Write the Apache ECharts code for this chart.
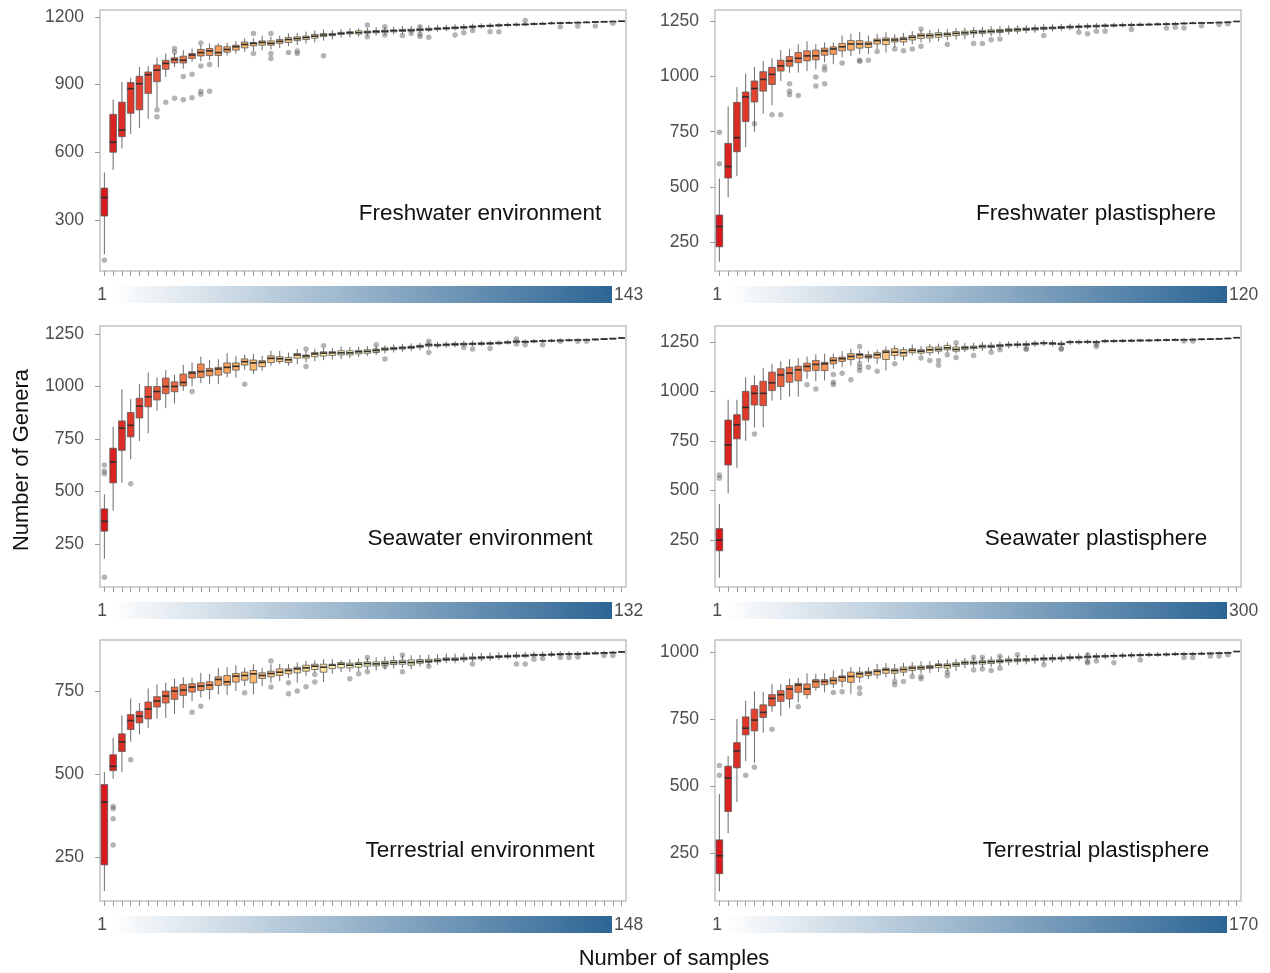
<!DOCTYPE html>
<html>
<head>
<meta charset="utf-8">
<script src="https://cdn.jsdelivr.net/npm/echarts@6/dist/echarts.min.js"></script>
<style>
  html, body { margin: 0; padding: 0; background: #ffffff; }
  #chart { width: 1270px; height: 973px; }
</style>
</head>
<body>
<div id="chart"></div>
<script>
// ---------- Data: rarefaction boxes [lower whisker, Q1, median, Q3, upper whisker] ----------
const fwEnvBoxes = [
  [147,317,399,441,510],[521,600,644,768,834],[617,669,699,822,912],[681,773,882,909,931],
  [708,788,904,937,978],[748,861,944,956,982],[800,913,964,987,1020],[934,968,994,1008,1038],
  [978,996,1011,1019,1040],[971,996,1008,1026,1053],[1001,1016,1031,1038,1060],[1003,1027,1042,1056,1075],
  [1008,1029,1050,1060,1083],[978,1029,1042,1072,1083],[1029,1044,1056,1068,1085],[1038,1053,1068,1075,1094],
  [1045,1063,1078,1089,1105],[1050,1072,1083,1087,1105],[1052,1075,1087,1094,1117],[1056,1075,1083,1094,1112],
  [1063,1083,1092,1100,1117],[1070,1087,1100,1109,1127],[1075,1095,1104,1112,1130],[1082,1100,1109,1115,1135],
  [1088,1106,1115,1123,1140],[1095,1113,1120,1127,1145],[1100,1117,1122,1127,1142],[1108,1123,1127,1132,1147],
  [1110,1125,1130,1135,1150],[1112,1124,1131,1139,1150],[1116,1128,1133,1138,1152],[1118,1130,1135,1140,1155],
  [1120,1132,1137,1142,1156],[1122,1134,1139,1143,1158],[1124,1136,1140,1145,1160],[1126,1137,1141,1146,1160],
  [1128,1139,1143,1148,1162],[1132,1141,1145,1150,1163],[1135,1144,1148,1152,1165],[1137,1146,1150,1154,1166],
  [1140,1148,1152,1156,1168],[1142,1150,1154,1158,1169],[1145,1153,1157,1160,1170],[1148,1156,1159,1162,1172],
  [1150,1158,1161,1164,1173],[1153,1160,1163,1166,1174],[1156,1162,1165,1167,1175],[1158,1164,1166,1168,1176],
  [1160,1165,1167,1169,1177],[1162,1167,1169,1171,1178],[1164,1168,1170,1172,1179],[1166,1170,1172,1173,1180],
  [1168,1171,1173,1174,1180],[1170,1173,1174,1175,1181],[1172,1174,1175,1176,1181],[1173,1175,1176,1177,1182],
  [1175,1177,1178,1178,1182],[1177,1178,1179,1179,1182],[1178,1179,1180,1180,1182],[1181,1181,1181,1181,1181]
];
const fwEnvOutliers = [
  [0,121],[6,788],[6,757],[7,822],[8,1060],[8,1045],[8,840],[9,936],[9,833],[10,946],[10,842],
  [11,1085],[11,983],[11,870],[11,857],[12,989],[12,871],[17,1127],[17,1038],[19,1127],[19,1038],[19,1016],
  [21,1042],[22,1049],[22,1038],[25,1028],[30,1164],[30,1112],[32,1157],[32,1120],[34,1118],[35,1127],
  [36,1157],[36,1123],[36,1113],[37,1110],[40,1120],[41,1130],[42,1140],[44,1135],[45,1135],[48,1184],
  [52,1157],[54,1160],[56,1160],[58,1172]
];

const fwPlaBoxes = [
  [160,228,320,372,537],[453,540,592,697,865],[548,659,723,883,952],[680,796,908,930,1013],
  [750,885,946,980,1044],[832,934,987,1022,1071],[870,964,1010,1042,1083],[980,1025,1048,1074,1120],
  [1017,1047,1071,1091,1125],[1018,1063,1083,1109,1147],[1025,1071,1094,1117,1160],[1033,1076,1094,1120,1147],
  [1064,1097,1117,1129,1155],[1056,1101,1125,1135,1155],[1087,1117,1135,1150,1186],[1094,1120,1148,1163,1193],
  [1102,1129,1148,1163,1201],[1102,1132,1148,1157,1186],[1125,1148,1163,1170,1193],[1109,1145,1166,1175,1201],
  [1132,1157,1166,1174,1193],[1140,1157,1170,1178,1198],[1147,1166,1178,1186,1206],[1155,1173,1186,1194,1212],
  [1155,1175,1186,1194,1212],[1160,1178,1190,1199,1216],[1165,1183,1192,1198,1216],[1168,1186,1196,1204,1220],
  [1170,1189,1198,1206,1222],[1175,1194,1201,1209,1224],[1180,1196,1203,1210,1226],[1183,1198,1205,1212,1228],
  [1186,1200,1207,1214,1230],[1190,1204,1211,1217,1232],[1193,1206,1213,1219,1233],[1196,1209,1215,1220,1234],
  [1199,1211,1217,1222,1236],[1203,1214,1220,1224,1238],[1205,1216,1221,1225,1238],[1208,1218,1223,1227,1239],
  [1210,1220,1225,1229,1240],[1212,1222,1226,1230,1241],[1215,1224,1228,1232,1242],[1217,1225,1229,1233,1243],
  [1219,1227,1231,1234,1243],[1221,1229,1232,1235,1244],[1223,1230,1233,1236,1245],[1225,1231,1234,1237,1245],
  [1227,1232,1235,1238,1246],[1229,1234,1236,1238,1246],[1231,1235,1237,1239,1247],[1232,1236,1238,1240,1247],
  [1234,1237,1239,1241,1248],[1236,1239,1241,1242,1248],[1238,1240,1242,1243,1249],[1240,1242,1243,1244,1249],
  [1241,1243,1244,1245,1249],[1243,1244,1245,1246,1250],[1245,1246,1246,1247,1250],[1250,1250,1250,1250,1250]
];
const fwPlaOutliers = [
  [0,747],[0,604],[4,786],[6,827],[7,827],[8,967],[8,933],[8,918],[9,914],[11,998],[11,957],
  [12,1045],[12,1030],[12,967],[14,1062],[16,1074],[16,1070],[17,1074],[18,1114],[20,1125],[21,1117],
  [22,1125],[23,1137],[23,1216],[26,1145],[29,1150],[30,1150],[31,1167],[32,1170],[37,1186],[41,1201],
  [42,1194],[43,1206],[44,1206],[47,1213],[51,1220],[52,1224],[53,1220],[55,1230],[57,1236],[58,1240]
];

const swEnvBoxes = [
  [180,311,358,417,486],[409,541,640,706,809],[541,696,801,836,987],[653,760,815,876,940],
  [740,850,906,944,1011],[777,903,951,1000,1067],[884,936,976,1000,1043],[897,966,1000,1040,1078],
  [919,975,1000,1022,1056],[979,1003,1019,1059,1103],[1000,1040,1064,1071,1114],[1016,1043,1071,1107,1142],
  [1011,1051,1075,1086,1126],[1011,1054,1083,1091,1130],[1043,1064,1091,1112,1159],[1043,1078,1096,1112,1146],
  [1080,1102,1118,1131,1151],[1059,1078,1112,1126,1155],[1075,1094,1115,1123,1146],[1099,1114,1134,1146,1170],
  [1107,1119,1132,1142,1170],[1099,1114,1127,1138,1162],[1107,1135,1150,1157,1178],[1115,1135,1145,1150,1170],
  [1120,1142,1155,1162,1180],[1125,1145,1159,1165,1182],[1128,1148,1160,1166,1183],[1130,1150,1160,1170,1190],
  [1135,1150,1160,1170,1188],[1140,1155,1165,1172,1190],[1145,1158,1167,1175,1192],[1150,1162,1172,1178,1195],
  [1158,1172,1178,1184,1196],[1162,1175,1181,1186,1200],[1165,1178,1184,1189,1203],[1168,1181,1187,1192,1205],
  [1172,1185,1192,1196,1208],[1180,1192,1198,1203,1214],[1182,1192,1197,1201,1212],[1184,1194,1199,1203,1214],
  [1187,1196,1201,1205,1216],[1190,1198,1202,1206,1217],[1192,1199,1203,1207,1218],[1193,1200,1204,1208,1218],
  [1195,1201,1205,1209,1219],[1197,1203,1207,1211,1220],[1200,1206,1210,1213,1222],[1204,1210,1214,1217,1225],
  [1204,1210,1213,1216,1224],[1206,1212,1215,1218,1225],[1209,1214,1217,1219,1226],[1210,1215,1218,1220,1227],
  [1212,1216,1219,1221,1227],[1213,1218,1220,1222,1228],[1215,1219,1221,1223,1228],[1216,1220,1222,1224,1229],
  [1218,1222,1224,1225,1229],[1221,1224,1226,1227,1230],[1224,1226,1228,1229,1231],[1231,1231,1231,1231,1231]
];
const swEnvOutliers = [
  [0,626],[0,597],[0,584],[0,91],[3,537],[10,976],[16,1011],[23,1178],[23,1095],[25,1194],
  [31,1199],[31,1170],[32,1131],[37,1215],[37,1162],[41,1186],[42,1178],[44,1181],[47,1226],[47,1202],
  [48,1199],[50,1199],[52,1215],[54,1215],[55,1215]
];

const swPlaBoxes = [
  [61,196,250,308,433],[486,629,731,856,959],[615,761,832,883,959],[751,856,920,1001,1072],
  [819,932,991,1030,1081],[819,929,991,1052,1120],[954,1005,1044,1098,1140],[958,1025,1084,1115,1153],
  [974,1047,1093,1123,1164],[974,1054,1110,1128,1169],[1064,1103,1127,1143,1177],[1052,1106,1137,1157,1188],
  [1056,1106,1140,1148,1191],[1115,1140,1157,1171,1191],[1123,1152,1166,1174,1204],[1132,1161,1177,1191,1216],
  [1148,1169,1186,1191,1211],[1148,1169,1177,1186,1204],[1140,1169,1186,1196,1211],[1106,1162,1199,1208,1228],
  [1160,1182,1199,1216,1233],[1157,1179,1196,1211,1225],[1182,1196,1208,1216,1238],[1185,1194,1204,1211,1230],
  [1180,1196,1211,1225,1240],[1190,1204,1213,1225,1242],[1196,1211,1221,1233,1248],[1192,1204,1213,1225,1240],
  [1200,1212,1221,1228,1245],[1205,1216,1223,1230,1246],[1205,1220,1228,1234,1250],[1208,1222,1228,1234,1250],
  [1212,1226,1232,1237,1252],[1218,1230,1236,1240,1254],[1220,1232,1237,1241,1255],[1222,1233,1238,1242,1256],
  [1226,1237,1242,1246,1258],[1230,1240,1245,1248,1260],[1228,1238,1243,1247,1259],[1226,1236,1240,1245,1258],
  [1236,1246,1250,1253,1262],[1237,1246,1250,1253,1262],[1239,1247,1251,1254,1263],[1238,1246,1250,1253,1262],
  [1244,1251,1255,1257,1265],[1245,1252,1255,1258,1265],[1246,1253,1256,1259,1266],[1247,1254,1257,1259,1266],
  [1249,1255,1258,1260,1267],[1250,1256,1258,1260,1267],[1251,1257,1259,1261,1268],[1252,1258,1260,1262,1268],
  [1254,1259,1261,1263,1269],[1255,1260,1261,1263,1269],[1256,1261,1262,1264,1270],[1258,1262,1264,1265,1270],
  [1260,1263,1265,1266,1271],[1262,1265,1266,1267,1271],[1264,1267,1268,1269,1272],[1272,1272,1272,1272,1272]
];
const swPlaOutliers = [
  [0,578],[0,562],[4,785],[10,1034],[11,1013],[13,1086],[13,1047],[13,1035],[14,1093],[15,1059],
  [16,1228],[16,1140],[16,1123],[16,1106],[17,1123],[18,1103],[20,1140],[23,1169],[24,1157],[25,1157],
  [25,1133],[26,1186],[27,1247],[27,1172],[29,1182],[31,1199],[32,1211],[35,1213],[35,1216],[39,1218],
  [39,1213],[43,1238],[43,1228],[53,1255],[54,1255]
];

const trEnvBoxes = [
  [147,226,415,468,506],[486,510,523,558,609],[506,568,597,621,676],[597,634,661,679,728],
  [619,654,674,689,714],[639,666,696,717,758],[667,702,720,733,770],[669,714,735,750,775],
  [681,725,750,762,787],[699,737,753,770,792],[720,747,762,772,790],[730,752,765,775,805],
  [725,755,768,778,802],[740,767,785,793,820],[738,768,778,797,822],[750,777,795,803,828],
  [765,783,797,807,820],[740,775,802,812,831],[765,788,797,805,820],[775,793,803,810,831],
  [780,797,807,817,832],[790,802,812,817,831],[775,805,817,822,836],[795,810,820,828,841],
  [807,815,825,831,843],[777,807,822,831,846],[802,818,828,831,846],[807,820,831,836,843],
  [808,820,828,834,846],[810,822,831,836,848],[815,825,833,838,850],[812,826,832,838,852],
  [815,828,834,840,854],[818,830,836,842,856],[820,831,837,843,857],[816,828,836,844,858],
  [824,834,839,845,859],[826,836,840,846,860],[829,838,842,847,861],[834,842,846,850,863],
  [834,842,846,850,863],[836,844,848,852,864],[839,846,850,853,865],[840,847,851,854,865],
  [842,849,852,855,866],[844,851,854,857,867],[846,852,855,858,867],[847,853,856,859,868],
  [849,854,857,859,868],[851,856,859,861,869],[852,857,859,861,869],[853,858,860,862,870],
  [855,859,861,863,870],[856,860,862,863,870],[857,860,862,864,870],[858,861,863,865,871],
  [860,862,864,865,871],[861,863,865,866,871],[863,865,866,867,871],[868,868,868,868,868]
];
const trEnvOutliers = [
  [1,402],[1,395],[1,365],[1,286],[3,543],[10,686],[11,704],[16,745],[19,841],[19,762],
  [21,775],[21,742],[22,750],[23,763],[24,800],[24,777],[28,787],[29,802],[30,851],[30,808],
  [32,825],[34,859],[34,808],[37,825],[42,832],[47,832],[48,832],[49,846],[50,848],[52,851],
  [53,851],[54,853],[57,857],[58,857]
];

const trPlaBoxes = [
  [107,173,240,299,470],[324,405,530,574,612],[440,568,631,662,750],[593,691,716,758,818],
  [587,706,746,787,853],[699,756,775,803,852],[777,799,827,841,881],[762,816,841,856,881],
  [791,825,862,875,900],[812,850,877,883,904],[825,841,862,881,921],[856,868,890,897,919],
  [850,878,890,897,921],[866,881,894,904,931],[868,891,906,911,937],[844,887,909,925,944],
  [887,906,919,925,944],[900,912,922,928,944],[900,915,928,934,956],[906,921,934,940,959],
  [900,921,931,937,956],[910,925,935,944,960],[915,931,940,947,962],[920,935,942,948,965],
  [922,938,944,950,966],[925,942,951,956,970],[928,940,950,956,972],[930,947,954,960,974],
  [940,954,960,966,978],[942,955,960,966,980],[942,955,962,968,982],[944,957,964,970,984],
  [947,960,966,971,985],[950,963,969,974,987],[952,964,970,975,988],[954,966,971,976,989],
  [956,968,973,977,990],[958,970,975,979,991],[960,971,976,980,992],[962,973,977,981,993],
  [965,975,979,983,994],[967,977,980,984,995],[969,978,982,985,996],[971,980,984,986,997],
  [973,981,985,987,997],[975,983,986,988,998],[977,984,987,989,998],[978,985,988,990,999],
  [980,986,989,991,999],[981,987,990,992,1000],[982,988,990,992,1000],[983,989,991,993,1000],
  [985,990,992,994,1001],[986,991,993,994,1001],[987,992,993,995,1001],[988,992,994,995,1001],
  [990,993,995,996,1001],[991,994,996,997,1002],[993,996,997,998,1002],[1002,1002,1002,1002,1002]
];
const trPlaOutliers = [
  [0,577],[0,540],[3,540],[4,570],[6,712],[9,796],[13,849],[14,852],[16,866],[16,845],
  [20,891],[20,878],[21,890],[22,909],[23,909],[23,900],[26,925],[26,912],[29,981],[29,933],
  [30,981],[30,937],[31,931],[32,984],[32,940],[34,990],[37,953],[42,990],[42,965],[42,960],
  [43,967],[45,960],[48,970],[53,980],[54,980],[56,985],[57,985],[58,990]
];

const panelTitles = [
  'Freshwater environment', 'Freshwater plastisphere',
  'Seawater environment', 'Seawater plastisphere',
  'Terrestrial environment', 'Terrestrial plastisphere'
];
const sampleTotals = [143, 120, 132, 300, 148, 170];
const yTickValues = [
  [300, 600, 900, 1200],
  [250, 500, 750, 1000, 1250],
  [250, 500, 750, 1000, 1250],
  [250, 500, 750, 1000, 1250],
  [250, 500, 750],
  [250, 500, 750, 1000]
];
const yAxisTitle = 'Number of Genera';
const xAxisTitle = 'Number of samples';

const panelBoxes = [fwEnvBoxes, fwPlaBoxes, swEnvBoxes, swPlaBoxes, trEnvBoxes, trPlaBoxes];
const panelOutliers = [fwEnvOutliers, fwPlaOutliers, swEnvOutliers, swPlaOutliers, trEnvOutliers, trPlaOutliers];

// ---------- Layout ----------
const gridLeft = [100, 715, 100, 715, 100, 715];
const gridTop = [10, 10, 326, 326, 640, 640];
const gridWidth = 526;
const gridHeight = 261;
const yMin = [73, 118, 45, 13, 117, 71];
const yMax = [1231, 1302, 1288, 1331, 904, 1045];
const labelCenterX = [480, 1096, 480, 1096, 480, 1096];
const labelCenterY = [214, 214, 539, 539, 851, 851];
const FONT = '"Liberation Sans", Arial, Helvetica, sans-serif';

// Fill ramp for boxes, running from the smallest to the largest subsample
const rampStops = ['#d7191c', '#fdae61', '#ffffbf', '#abdda4', '#2b83ba'];
function hexToRgb(h) { return [1, 3, 5].map(k => parseInt(h.slice(k, k + 2), 16)); }
function rampColor(t) {
  const seg = t * (rampStops.length - 1);
  const k = Math.min(Math.floor(seg), rampStops.length - 2);
  const f = seg - k;
  const a = hexToRgb(rampStops[k]), b = hexToRgb(rampStops[k + 1]);
  const c = a.map((v, j) => Math.round(v + (b[j] - v) * f));
  return 'rgb(' + c.join(',') + ')';
}

function makeRenderBox(total) {
  return function (params, api) {
    const i = api.value(0);
    const lo = api.coord([i, api.value(1)]);
    const q1 = api.coord([i, api.value(2)]);
    const md = api.coord([i, api.value(3)]);
    const q3 = api.coord([i, api.value(4)]);
    const hi = api.coord([i, api.value(5)]);
    const bw = api.size([1, 0])[0] * 0.76;
    const x = md[0];
    return {
      type: 'group',
      children: [
        { type: 'line', shape: { x1: x, y1: lo[1], x2: x, y2: hi[1] },
          style: { stroke: '#5b5b5b', lineWidth: 0.9 } },
        { type: 'rect', shape: { x: x - bw / 2, y: q3[1], width: bw, height: Math.max(q1[1] - q3[1], 0) },
          style: { fill: rampColor(params.dataIndex / (total - 1)), stroke: '#5b5b5b', lineWidth: 0.8 } },
        { type: 'line', shape: { x1: x - bw / 2, y1: md[1], x2: x + bw / 2, y2: md[1] },
          style: { stroke: '#2e2e2e', lineWidth: 1.6 } }
      ]
    };
  };
}

const grids = [], xAxes = [], yAxes = [], series = [], graphics = [];
for (let p = 0; p < 6; p++) {
  const boxes = panelBoxes[p];
  const steps = boxes.map((_, k) => String(k + 1));
  grids.push({
    left: gridLeft[p], top: gridTop[p], width: gridWidth, height: gridHeight,
    show: true, borderColor: '#c2c2c2', borderWidth: 1.5, backgroundColor: '#ffffff'
  });
  xAxes.push({
    type: 'category', gridIndex: p, data: steps, boundaryGap: true,
    axisLine: { show: false },
    axisTick: { show: true, alignWithLabel: true, length: 5, interval: 0,
                lineStyle: { color: '#9a9a9a', width: 1 } },
    axisLabel: { show: false },
    splitLine: { show: false }
  });
  yAxes.push({
    type: 'value', gridIndex: p, min: yMin[p], max: yMax[p],
    axisLine: { show: false },
    axisTick: { show: true, length: 5, customValues: yTickValues[p],
                lineStyle: { color: '#9a9a9a', width: 1 } },
    axisLabel: { show: true, customValues: yTickValues[p], margin: 16,
                 formatter: v => String(v),
                 color: '#4d4d4d', fontSize: 17.5, fontFamily: FONT },
    splitLine: { show: false }
  });
  series.push({
    type: 'custom', xAxisIndex: p, yAxisIndex: p,
    renderItem: makeRenderBox(boxes.length),
    encode: { x: 0, y: [1, 2, 3, 4, 5] },
    data: boxes.map((b, k) => [k, b[0], b[1], b[2], b[3], b[4]]),
    z: 2
  });
  series.push({
    type: 'scatter', xAxisIndex: p, yAxisIndex: p,
    data: panelOutliers[p],
    symbol: 'circle', symbolSize: 5.5,
    itemStyle: { color: 'rgba(85,85,85,0.55)' },
    z: 3
  });

  // Panel label
  graphics.push({
    type: 'text', x: labelCenterX[p], y: labelCenterY[p],
    style: { text: panelTitles[p], fill: '#111111', font: '22.5px ' + FONT,
             textAlign: 'center', textVerticalAlign: 'middle' }
  });
  // Sample-count colour bar under each panel
  const barTop = gridTop[p] + gridHeight + 15;
  const barLeft = gridLeft[p] + 10;
  const barRight = gridLeft[p] + 512;
  graphics.push({
    type: 'rect', shape: { x: barLeft, y: barTop, width: barRight - barLeft, height: 17 },
    style: { fill: new echarts.graphic.LinearGradient(0, 0, 1, 0, [
      { offset: 0, color: '#ffffff' }, { offset: 1, color: '#2c6594' }]) }
  });
  graphics.push({
    type: 'text', x: barLeft - 3, y: barTop + 9,
    style: { text: '1', fill: '#4d4d4d', font: '17.5px ' + FONT, textAlign: 'right', textVerticalAlign: 'middle' }
  });
  graphics.push({
    type: 'text', x: barRight + 2, y: barTop + 9,
    style: { text: String(sampleTotals[p]), fill: '#4d4d4d', font: '17.5px ' + FONT,
             textAlign: 'left', textVerticalAlign: 'middle' }
  });
}

graphics.push({
  type: 'text', x: 22, y: 460, rotation: Math.PI / 2,
  style: { text: yAxisTitle, fill: '#111111', font: '22px ' + FONT, textAlign: 'center', textVerticalAlign: 'middle' }
});
graphics.push({
  type: 'text', x: 674, y: 959,
  style: { text: xAxisTitle, fill: '#111111', font: '22px ' + FONT, textAlign: 'center', textVerticalAlign: 'middle' }
});

const chart = echarts.init(document.getElementById('chart'), null, { renderer: 'canvas' });
chart.setOption({
  animation: false,
  backgroundColor: '#ffffff',
  grid: grids,
  xAxis: xAxes,
  yAxis: yAxes,
  series: series,
  graphic: graphics
});
</script>
</body>
</html>
